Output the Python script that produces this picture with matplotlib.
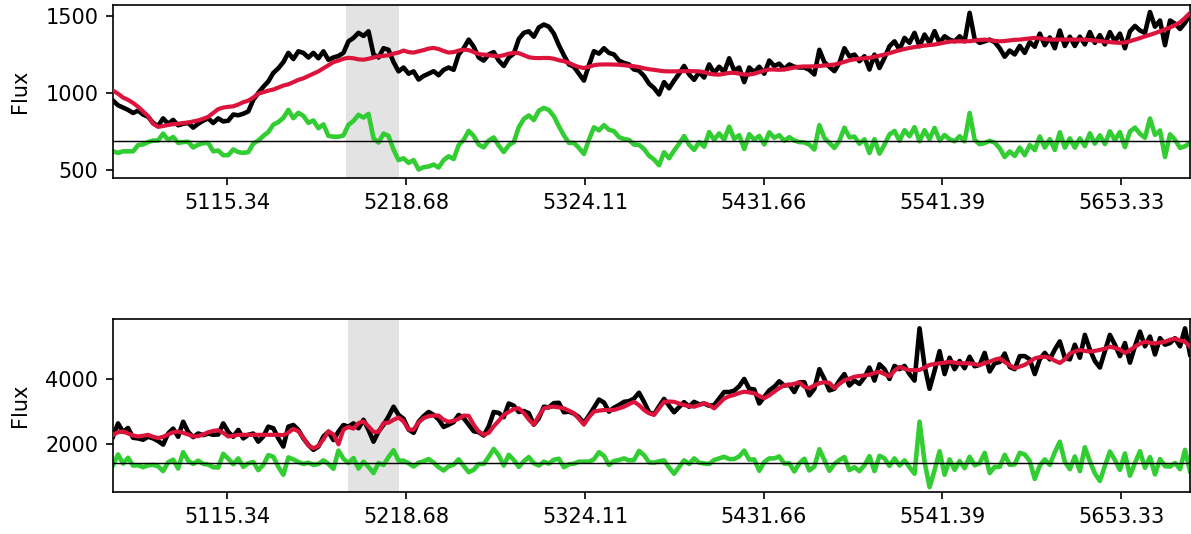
"""Two-order spectrum fit: flux, model and residuals against wavelength."""

import numpy as np
import matplotlib

matplotlib.use("Agg")
import matplotlib.pyplot as plt

# x axis runs in ln(wavelength); tick labels show wavelength in Angstrom
LOGWAVE_RANGE = (8.5272, 8.6477)
LOGWAVE_TICKS = [8.54, 8.56, 8.58, 8.60, 8.62, 8.64]
MASK_LOGWAVE = [(8.5533, 8.5592), (8.5535, 8.5592)]

# order 1
flux_1 = [
    950, 920, 905, 890, 870, 885, 860, 845, 805, 785, 835, 800, 825, 790, 800, 805,
    775, 800, 820, 835, 805, 835, 815, 820, 860, 855, 865, 880, 955, 1000, 1040, 1075,
    1130, 1160, 1200, 1260, 1220, 1270, 1260, 1230, 1260, 1225, 1270, 1215, 1230, 1240,
    1260, 1335, 1357, 1390, 1370, 1400, 1250, 1230, 1290, 1280, 1200, 1140, 1165, 1125,
    1140, 1087, 1110, 1125, 1141, 1115, 1150, 1165, 1150, 1250, 1290, 1346, 1300, 1230,
    1210, 1250, 1265, 1210, 1175, 1230, 1255, 1350, 1390, 1400, 1365, 1425, 1444, 1430,
    1385, 1310, 1245, 1185, 1170, 1125, 1080, 1180, 1271, 1255, 1290, 1260, 1250, 1210,
    1195, 1185, 1152, 1145, 1110, 1060, 1032, 990, 1070, 1030, 1080, 1125, 1175, 1120,
    1085, 1135, 1100, 1185, 1130, 1170, 1135, 1225, 1145, 1165, 1070, 1165, 1135, 1170,
    1125, 1210, 1175, 1190, 1155, 1185, 1170, 1165, 1165, 1150, 1120, 1280, 1200, 1170,
    1141, 1195, 1290, 1238, 1249, 1206, 1238, 1152, 1249, 1162, 1227, 1303, 1335, 1281,
    1357, 1325, 1390, 1303, 1379, 1325, 1401, 1325, 1368, 1346, 1335, 1368, 1335, 1520,
    1350, 1325, 1335, 1346, 1330, 1290, 1235, 1275, 1250, 1305, 1260, 1330, 1300, 1385,
    1310, 1360, 1290, 1405, 1305, 1365, 1305, 1365, 1315, 1395, 1325, 1375, 1315, 1395,
    1335, 1385, 1290, 1400, 1435, 1405, 1390, 1525, 1430, 1470, 1310, 1470, 1450, 1415,
    1455, 1510,
]
model_1 = [
    1015, 995, 970, 955, 935, 910, 880, 850, 800, 780, 785, 792, 797, 800, 805, 808,
    815, 822, 832, 845, 870, 895, 905, 910, 913, 925, 940, 950, 970, 995, 1005, 1015,
    1022, 1035, 1048, 1056, 1070, 1085, 1095, 1110, 1125, 1140, 1160, 1180, 1200, 1210,
    1222, 1228, 1225, 1218, 1216, 1222, 1230, 1238, 1240, 1245, 1255, 1262, 1275, 1265,
    1262, 1270, 1278, 1288, 1292, 1285, 1272, 1262, 1265, 1275, 1281, 1278, 1265, 1252,
    1249, 1245, 1240, 1238, 1245, 1255, 1260, 1258, 1245, 1232, 1227, 1226, 1227, 1227,
    1222, 1212, 1206, 1195, 1180, 1168, 1162, 1170, 1180, 1184, 1185, 1185, 1184, 1183,
    1180, 1176, 1173, 1168, 1160, 1154, 1150, 1145, 1141, 1140, 1140, 1141, 1141, 1142,
    1141, 1140, 1135, 1125, 1120, 1119, 1124, 1130, 1130, 1125, 1120, 1119, 1125, 1135,
    1145, 1152, 1152, 1150, 1152, 1158, 1165, 1170, 1172, 1172, 1173, 1175, 1178, 1181,
    1184, 1192, 1202, 1212, 1218, 1222, 1225, 1228, 1235, 1242, 1249, 1258, 1268, 1277,
    1285, 1292, 1298, 1303, 1307, 1311, 1314, 1320, 1327, 1333, 1335, 1335, 1335, 1336,
    1340, 1344, 1346, 1343, 1338, 1335, 1337, 1341, 1345, 1346, 1350, 1354, 1357, 1354,
    1350, 1346, 1346, 1346, 1346, 1346, 1346, 1346, 1346, 1343, 1340, 1336, 1333, 1330,
    1327, 1325, 1328, 1336, 1346, 1356, 1367, 1377, 1388, 1400, 1412, 1425, 1440, 1458,
    1487, 1520,
]
offset_1 = 686

# order 2
flux_2 = [
    2235, 2640, 2380, 2500, 2200, 2180, 2140, 2230, 2180, 2100, 1990, 2330, 2480, 2230,
    2690, 2380, 2220, 2330, 2280, 2330, 2290, 2300, 2640, 2380, 2230, 2440, 2180, 2290,
    2330, 2080, 2240, 2540, 2490, 2180, 1930, 2540, 2590, 2440, 2180, 1980, 1830, 1930,
    2240, 2380, 2130, 2390, 2590, 2540, 2640, 2490, 2750, 2440, 2080, 2390, 2600, 2850,
    3150, 2900, 2780, 2450, 2350, 2690, 2860, 2990, 2900, 2760, 2530, 2600, 2680, 2900,
    2800, 2600, 2400, 2370, 2270, 2550, 2990, 2960, 2830, 3250, 3180, 2990, 3020, 2950,
    2600, 2800, 3150, 3130, 3260, 3270, 2980, 3000, 2940, 2830, 2650, 2880, 3120, 3370,
    3280, 3000, 3120, 3200, 3300, 3320, 3400, 3580, 3300, 2980, 2920, 3160, 3390, 3180,
    2980, 3140, 3290, 3150, 3300, 3220, 3250, 3180, 3200, 3400, 3600, 3600, 3640, 3780,
    4000, 3700, 3680, 3250, 3450, 3650, 3760, 3930, 3800, 3820, 3600, 3900, 3900, 3500,
    3700, 4300, 4000, 3650, 3700, 3950, 4150, 3800, 3950, 3850, 4050, 4350, 3950, 4450,
    4300, 4000, 4400, 4300, 4400, 4150, 3950, 5550, 4400, 3700, 4250, 4850, 4150, 4650,
    4300, 4550, 4330, 4680, 4390, 4430, 4800, 4230, 4480, 4520, 4780, 4370, 4300, 4700,
    4700, 4600, 4150, 4600, 4800, 4600, 4900, 5150, 4650, 4600, 5050, 4650, 5350, 4900,
    4550, 4350, 4850, 5350, 5050, 4700, 5100, 4500, 5000, 5450, 5000, 5300, 4750, 5250,
    5050, 5100, 5250, 5000, 5550, 4750,
]
model_2 = [
    2290, 2370, 2390, 2330, 2270, 2240, 2260, 2290, 2230, 2190, 2230, 2300, 2370, 2390,
    2350, 2300, 2240, 2250, 2300, 2370, 2410, 2430, 2350, 2240, 2260, 2290, 2290, 2290,
    2290, 2290, 2290, 2290, 2290, 2290, 2280, 2360, 2470, 2400, 2200, 1960, 1880, 1950,
    2150, 2400, 2300, 2000, 2450, 2530, 2480, 2650, 2700, 2550, 2380, 2380, 2650, 2660,
    2750, 2820, 2700, 2450, 2450, 2670, 2800, 2860, 2880, 2880, 2750, 2690, 2720, 2780,
    2880, 2870, 2600, 2390, 2290, 2350, 2550, 2720, 2900, 2990, 3080, 3100, 2960, 2760,
    2600, 2870, 3100, 3140, 3150, 3130, 3100, 3030, 2950, 2780, 2600, 2830, 3000, 3030,
    3050, 3050, 3050, 3100, 3150, 3230, 3300, 3200, 3050, 2950, 2900, 3100, 3300, 3310,
    3300, 3250, 3200, 3170, 3150, 3200, 3255, 3200, 3100, 3250, 3400, 3470, 3510, 3570,
    3610, 3590, 3560, 3480, 3410, 3500, 3610, 3720, 3810, 3820, 3850, 3900, 3760, 3720,
    3800, 3870, 3900, 3880, 3720, 3850, 3960, 4010, 4070, 4090, 4110, 4130, 4190, 4220,
    4150, 4080, 4250, 4370, 4310, 4270, 4270, 4276, 4350, 4430, 4460, 4480, 4500, 4530,
    4500, 4480, 4480, 4480, 4450, 4430, 4480, 4530, 4590, 4630, 4520, 4420, 4330, 4380,
    4430, 4530, 4630, 4670, 4680, 4650, 4560, 4490, 4600, 4780, 4840, 4890, 4860, 4840,
    4860, 4890, 4930, 4990, 4950, 4900, 4800, 4880, 4990, 5080, 5140, 5110, 5090, 5120,
    5140, 5200, 5240, 5180, 5140, 4990,
]
offset_2 = 1418

panels = [
    (flux_1, model_1, offset_1, (448, 1571), [500, 1000, 1500]),
    (flux_2, model_2, offset_2, (530, 5828), [2000, 4000]),
]
# axes rectangles in figure fractions (left, bottom, width, height)
rects = [
    [0.0949, 0.6667, 0.9043, 0.324],
    [0.0949, 0.0781, 0.9043, 0.324],
]

fig = plt.figure(figsize=(1191 / 150, 534 / 150), dpi=150)

for (flux, model, offset, ylim, yticks), rect, mask in zip(panels, rects, MASK_LOGWAVE):
    flux = np.array(flux, dtype=float)
    model = np.array(model, dtype=float)
    logwave = np.linspace(*LOGWAVE_RANGE, len(flux))
    resid = flux - model + offset

    ax = fig.add_axes(rect)
    ax.axvspan(*mask, color="0.89", lw=0, zorder=0)
    ax.plot(logwave, flux, color="k", lw=2.2, zorder=2)
    ax.plot(logwave, model, color="crimson", lw=2, zorder=3)
    ax.plot(logwave, resid, color="limegreen", lw=2.2, zorder=2)
    ax.axhline(offset, color="k", lw=0.7, zorder=4)

    ax.set_xlim(*LOGWAVE_RANGE)
    ax.set_ylim(*ylim)
    ax.set_yticks(yticks)
    ax.set_xticks(LOGWAVE_TICKS)
    ax.set_xticklabels([f"{np.exp(t):.2f}" for t in LOGWAVE_TICKS])
    ax.set_ylabel("Flux", labelpad=7.5)

fig.savefig("out.png", dpi=150)
plt.close(fig)
